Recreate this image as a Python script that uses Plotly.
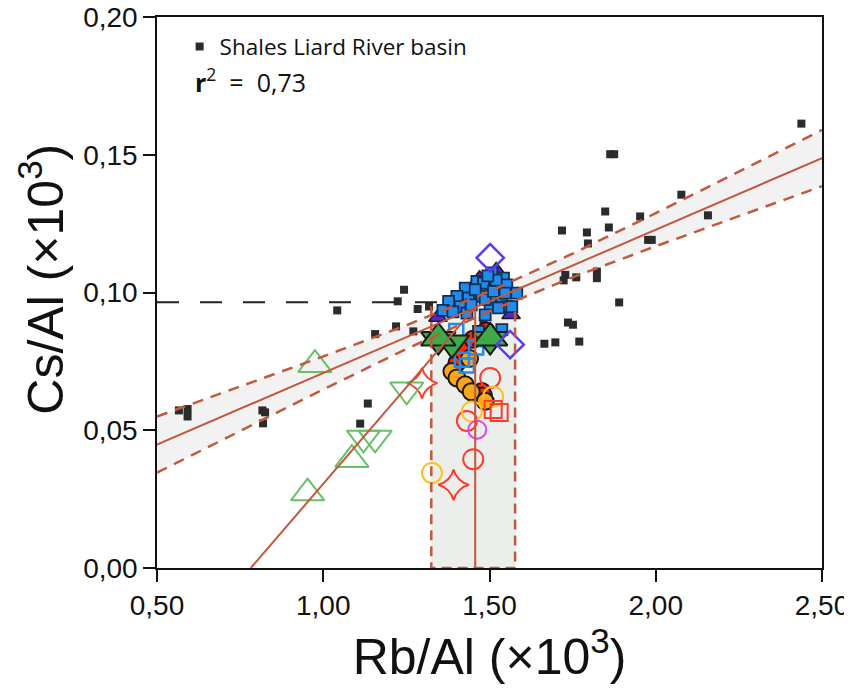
import plotly.graph_objects as go

# ---------------- data ----------------
shale_x = [0.566, 0.592, 0.592, 0.817, 0.825, 0.819, 1.042, 1.134, 1.111, 1.156, 1.219,
           1.224, 1.243, 1.271, 1.284, 1.318, 1.322, 1.482, 1.665, 1.698, 1.770, 1.736,
           1.751, 1.890, 1.723, 1.728, 1.761, 1.823, 1.823, 1.718, 1.793, 1.796, 1.859,
           1.848, 1.953, 1.977, 1.988, 2.157, 2.077, 1.863, 1.875, 2.438]
shale_y = [0.0572, 0.0577, 0.0550, 0.0572, 0.0565, 0.0525, 0.0935, 0.0597, 0.0524, 0.0849,
           0.0877, 0.0968, 0.1010, 0.0859, 0.0940, 0.0949, 0.0822, 0.0889, 0.0814, 0.0819,
           0.0822, 0.0891, 0.0883, 0.0964, 0.1044, 0.1064, 0.1055, 0.1076, 0.1052, 0.1225,
           0.1218, 0.1178, 0.1236, 0.1294, 0.1276, 0.1191, 0.1191, 0.1280, 0.1355, 0.1502,
           0.1502, 0.1613]

purple_tri_x = [1.47, 1.345, 1.565, 1.46, 1.52]
purple_tri_y = [0.105, 0.091, 0.092, 0.099, 0.108]

blue_sq_x = [1.507, 1.542, 1.552, 1.477, 1.507, 1.582, 1.537, 1.477, 1.552, 1.502, 1.462,
             1.427, 1.402, 1.437, 1.377, 1.412, 1.432, 1.487, 1.487, 1.527, 1.567, 1.482,
             1.512, 1.457, 1.547, 1.467, 1.537, 1.360, 1.390, 1.520, 1.495, 1.445]
blue_sq_y = [0.1071, 0.1052, 0.1028, 0.1022, 0.1016, 0.0998, 0.0986, 0.0986, 0.0949, 0.0956,
             0.1040, 0.1016, 0.0986, 0.0980, 0.0968, 0.0949, 0.0925, 0.0974, 0.0919, 0.0944,
             0.0949, 0.1034, 0.1004, 0.1010, 0.0998, 0.0859, 0.0865, 0.0935, 0.0930, 0.1045,
             0.1060, 0.0955]

blue_open_x = [1.432, 1.417, 1.460, 1.400, 1.490]
blue_open_y = [0.0735, 0.0756, 0.0800, 0.0860, 0.0830]

red_fill_x = [1.402, 1.477, 1.482, 1.417, 1.490, 1.450]
red_fill_y = [0.0744, 0.0641, 0.0625, 0.0790, 0.0860, 0.0830]

orange_fill_x = [1.387, 1.402, 1.427, 1.445, 1.487, 1.440]
orange_fill_y = [0.0713, 0.0690, 0.0665, 0.0640, 0.0605, 0.0760]

red_open_x = [1.502, 1.432, 1.451]
red_open_y = [0.0690, 0.0534, 0.0395]

yellow_open_x = [1.327, 1.447, 1.511]
yellow_open_y = [0.0345, 0.0568, 0.0622]

magenta_open_x = [1.463]
magenta_open_y = [0.0502]

red_sq_open_x = [1.511, 1.529]
red_sq_open_y = [0.0575, 0.0564]

red_star_x = [1.392, 1.297]
red_star_y = [0.0302, 0.0671]

green_up_open_x = [0.975, 1.086, 0.953]
green_up_open_y = [0.0738, 0.0393, 0.0272]
green_dn_open_x = [1.251, 1.121, 1.156]
green_dn_open_y = [0.0647, 0.0472, 0.0472]

green_up_fill_x = [1.346, 1.502]
green_up_fill_y = [0.0835, 0.0835]
green_dn_fill_x = [1.346, 1.387, 1.502]
green_dn_fill_y = [0.0829, 0.0817, 0.0829]

violet_diam_x = [1.502, 1.562]
violet_diam_y = [0.1126, 0.0811]

# regression line and its confidence band
fit_x = [0.5, 2.5]
fit_y = [0.0448, 0.1488]
band_x = [0.5, 0.75, 1.0, 1.25, 1.5, 1.75, 2.0, 2.25, 2.5]
band_hi = [0.0550, 0.0659, 0.0768, 0.0881, 0.1004, 0.1141, 0.1288, 0.1439, 0.1590]
band_lo = [0.0346, 0.0497, 0.0648, 0.0795, 0.0932, 0.1055, 0.1168, 0.1277, 0.1386]

# reference lines
steep_x = [0.782, 1.457]
steep_y = [0.0, 0.0946]
vert_x = [1.457, 1.457]
vert_y = [0.0, 0.0946]
hline_x = [0.5, 1.40]
hline_y = [0.0965, 0.0965]
rect_x0, rect_x1 = 1.325, 1.577
rect_y0, rect_y1 = 0.0, 0.095

x_ticks = [0.5, 1.0, 1.5, 2.0, 2.5]
x_ticktext = ["0,50", "1,00", "1,50", "2,00", "2,50"]
y_ticks = [0.0, 0.05, 0.10, 0.15, 0.20]
y_ticktext = ["0,00", "0,05", "0,10", "0,15", "0,20"]

LINE = "#C4583F"
fig = go.Figure()

# band fill
fig.add_trace(go.Scatter(x=band_x, y=band_lo, mode="lines", line=dict(width=0),
                         showlegend=False, hoverinfo="skip"))
fig.add_trace(go.Scatter(x=band_x, y=band_hi, mode="lines", line=dict(width=0),
                         fill="tonexty", fillcolor="#F2F2F2", showlegend=False, hoverinfo="skip"))
# rect fill
fig.add_shape(type="rect", x0=rect_x0, x1=rect_x1, y0=rect_y0, y1=rect_y1,
              fillcolor="#ECEEEC", line=dict(width=0), layer="below")


def mk(x, y, symbol, size, color, lcolor, lw, name="", legend=False):
    fig.add_trace(go.Scatter(x=x, y=y, mode="markers", name=name, showlegend=legend,
                             marker=dict(symbol=symbol, size=size, color=color,
                                         line=dict(color=lcolor, width=lw))))


mk(shale_x, shale_y, "square", 8, "#2B2B2B", "#2B2B2B", 0, "Shales Liard River basin", True)
mk(purple_tri_x, purple_tri_y, "triangle-up", 16, "#5A22D8", "#1a1a1a", 1.5)
mk(red_fill_x, red_fill_y, "circle", 17, "#FF2A00", "#1a1a1a", 2)
mk(orange_fill_x, orange_fill_y, "circle", 17, "#F9A61A", "#1a1a1a", 2)
mk(blue_open_x, blue_open_y, "square-open", 14, "#1E8CF0", "#1E8CF0", 2.5)
mk(red_open_x, red_open_y, "circle-open", 20, "#FF3B30", "#FF3B30", 2)
mk(yellow_open_x, yellow_open_y, "circle-open", 20, "#FFC020", "#FFC020", 2)
mk(magenta_open_x, magenta_open_y, "circle-open", 18, "#E040F0", "#E040F0", 2)
mk(red_sq_open_x, red_sq_open_y, "square-open", 17, "#FF3B30", "#FF3B30", 2)
mk(red_star_x, red_star_y, "star-diamond-open", 22, "#FF3B30", "#FF3B30", 2)
mk(green_up_open_x, green_up_open_y, "triangle-up-open", 29, "#66C266", "#66C266", 2)
mk(green_dn_open_x, green_dn_open_y, "triangle-down-open", 29, "#66C266", "#66C266", 2)
mk(blue_sq_x, blue_sq_y, "square", 11, "#1E8CF0", "#14304F", 1.8)
mk(green_dn_fill_x, green_dn_fill_y, "triangle-down", 30, "#3FAA48", "#1a1a1a", 2)
mk(green_up_fill_x, green_up_fill_y, "triangle-up", 30, "#3FAA48", "#1a1a1a", 2)
mk(violet_diam_x, violet_diam_y, "diamond-open", 21, "#5B3CF5", "#5B3CF5", 2.5)

# lines above markers
dash_r = "11px,8px"
fig.add_trace(go.Scatter(x=band_x, y=band_hi, mode="lines", line=dict(color=LINE, width=2.5, dash=dash_r),
                         showlegend=False, hoverinfo="skip"))
fig.add_trace(go.Scatter(x=band_x, y=band_lo, mode="lines", line=dict(color=LINE, width=2.5, dash=dash_r),
                         showlegend=False, hoverinfo="skip"))
fig.add_trace(go.Scatter(x=fit_x, y=fit_y, mode="lines", line=dict(color=LINE, width=2),
                         showlegend=False, hoverinfo="skip"))
fig.add_trace(go.Scatter(x=steep_x, y=steep_y, mode="lines", line=dict(color=LINE, width=2),
                         showlegend=False, hoverinfo="skip"))
fig.add_trace(go.Scatter(x=vert_x, y=vert_y, mode="lines", line=dict(color=LINE, width=2),
                         showlegend=False, hoverinfo="skip"))
fig.add_trace(go.Scatter(x=hline_x, y=hline_y, mode="lines", line=dict(color="#222222", width=2, dash="22px,21px"),
                         showlegend=False, hoverinfo="skip"))
fig.add_trace(go.Scatter(x=[rect_x0, rect_x0, rect_x1, rect_x1], y=[rect_y1, rect_y0, rect_y0, rect_y1],
                         mode="lines", line=dict(color=LINE, width=2.5, dash="10px,6px"),
                         showlegend=False, hoverinfo="skip"))

fig.add_annotation(x=0.054, y=0.885, xref="paper", yref="paper", xanchor="left", yanchor="middle",
                   text="<b>r</b><sup>2</sup>&nbsp; =&nbsp; 0,73", showarrow=False,
                   font=dict(family="Open Sans", size=25, color="#111"))

axis_font = dict(family="Liberation Sans, Arial", size=28, color="#111")
title_font = dict(family="Liberation Sans, Arial", size=50, color="#111")

# y-axis title (placed as rotated annotation to match the reference position)
fig.add_annotation(x=-0.173, y=0.525, xref="paper", yref="paper", xanchor="center", yanchor="middle",
                   text="Cs/Al (×10<sup>3</sup>)", textangle=-90, showarrow=False, font=title_font)

fig.update_layout(
    width=844, height=680,
    margin=dict(l=149, r=30, t=9, b=120),
    paper_bgcolor="white", plot_bgcolor="white",
    showlegend=True,
    legend=dict(x=0.034, y=0.985, xanchor="left", yanchor="top", bgcolor="rgba(0,0,0,0)",
                font=dict(family="Open Sans", size=22.5, color="#111")),
    xaxis=dict(range=[0.5, 2.5], tickvals=x_ticks, ticktext=x_ticktext, ticks="outside",
               ticklen=12, tickwidth=1.5, tickcolor="#111", showline=True, linecolor="#111",
               linewidth=1.5, mirror=True, showgrid=False, zeroline=False, tickfont=axis_font,
               automargin=False, ticklabeloverflow="allow",
               title=dict(text="Rb/Al (×10<sup>3</sup>)", font=title_font, standoff=12)),
    yaxis=dict(range=[0.0, 0.2], tickvals=y_ticks, ticktext=y_ticktext, ticks="outside",
               ticklen=12, tickwidth=1.5, tickcolor="#111", showline=True, linecolor="#111",
               linewidth=1.5, mirror=True, showgrid=False, zeroline=False, tickfont=axis_font,
               automargin=False, ticklabeloverflow="allow"),
)

fig.write_html("out.html")
